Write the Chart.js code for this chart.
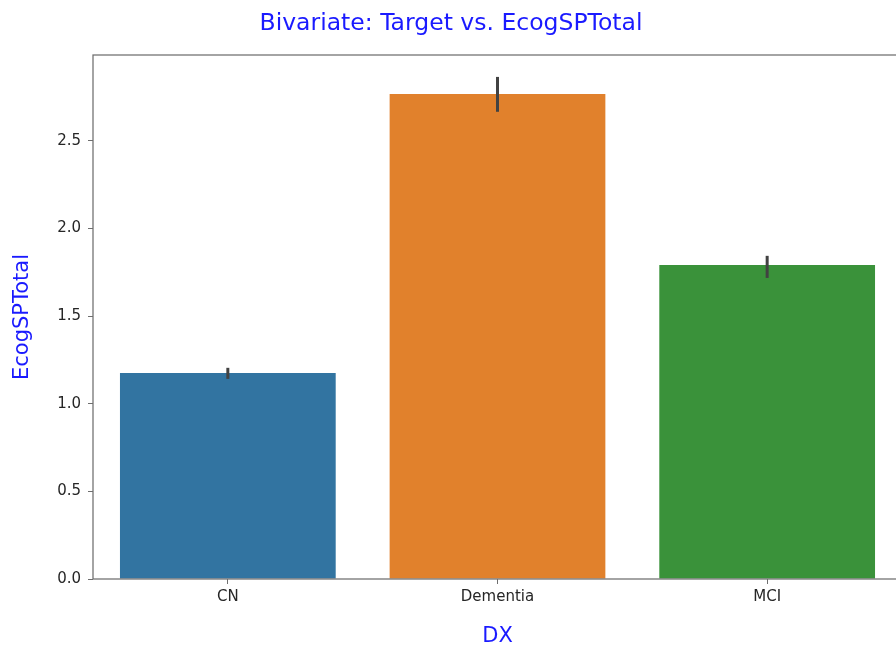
<!DOCTYPE html>
<html>
<head>
<meta charset="utf-8">
<script src="https://cdn.jsdelivr.net/npm/chart.js@4"></script>
<style>
  html, body { margin: 0; padding: 0; background: #fff; overflow: hidden; }
  #wrap { width: 904px; height: 653px; }
</style>
</head>
<body>
<div id="wrap"><canvas id="grafico" width="904" height="653"></canvas></div>
<script>
// values
const categorias = ["CN", "Dementia", "MCI"];
const medias = [1.176, 2.768, 1.792];
const ciBajo = [1.142, 2.666, 1.718];
const ciAlto = [1.205, 2.865, 1.844];
const yTicks = [0.0, 0.5, 1.0, 1.5, 2.0, 2.5];
const yMax = 2.99;
const colores = ["#3274a1", "#e1812c", "#3a923a"];

const FONT = "'DejaVu Sans', sans-serif";
const SPINE = "#6e6e6e";

// error bars + frame around the plot area
const extras = {
  id: "extras",
  afterDatasetsDraw(chart) {
    const { ctx, chartArea, scales } = chart;
    const meta = chart.getDatasetMeta(0);
    ctx.save();
    ctx.strokeStyle = "#424242";
    ctx.lineWidth = 3;
    ctx.lineCap = "butt";
    meta.data.forEach((bar, i) => {
      ctx.beginPath();
      ctx.moveTo(bar.x, scales.y.getPixelForValue(ciBajo[i]));
      ctx.lineTo(bar.x, scales.y.getPixelForValue(ciAlto[i]));
      ctx.stroke();
    });
    ctx.strokeStyle = SPINE;
    ctx.lineWidth = 1.25;
    ctx.strokeRect(chartArea.left, chartArea.top, chartArea.right - chartArea.left, chartArea.bottom - chartArea.top);
    ctx.restore();
  }
};

new Chart(document.getElementById("grafico"), {
  type: "bar",
  data: {
    labels: categorias,
    datasets: [{
      data: medias,
      backgroundColor: colores,
      borderWidth: 0,
      barPercentage: 0.8,
      categoryPercentage: 1.0
    }]
  },
  options: {
    responsive: false,
    animation: false,
    layout: { padding: { left: 0, right: 2, top: 0, bottom: 0 } },
    plugins: {
      legend: { display: false },
      tooltip: { enabled: false },
      title: {
        display: true,
        text: "Bivariate: Target vs. EcogSPTotal",
        color: "#1a1aff",
        font: { family: FONT, size: 23.5, weight: "normal" },
        padding: { top: 10, bottom: 16.8 }
      }
    },
    scales: {
      x: {
        grid: { display: true, drawOnChartArea: false, offset: false, tickLength: 5, color: SPINE },
        border: { display: false },
        ticks: { color: "#262626", padding: 4, font: { family: FONT, size: 15 } },
        title: {
          display: true, text: "DX", color: "#1a1aff",
          font: { family: FONT, size: 21 }, padding: { top: 0, bottom: 4 }
        },
        afterFit(scale) { scale.height = 74; }
      },
      y: {
        min: 0,
        max: yMax,
        afterBuildTicks(scale) { scale.ticks = yTicks.map(v => ({ value: v })); },
        grid: { display: true, drawOnChartArea: false, tickLength: 5, color: SPINE },
        border: { display: false },
        ticks: {
          color: "#262626", padding: 7, font: { family: FONT, size: 15 },
          callback: v => Number(v).toFixed(1)
        },
        title: {
          display: true, text: "EcogSPTotal", color: "#1a1aff",
          font: { family: FONT, size: 21 }, padding: { top: 10, bottom: 0 }
        },
        afterFit(scale) { scale.width = 93; }
      }
    }
  },
  plugins: [extras]
});
</script>
</body>
</html>
